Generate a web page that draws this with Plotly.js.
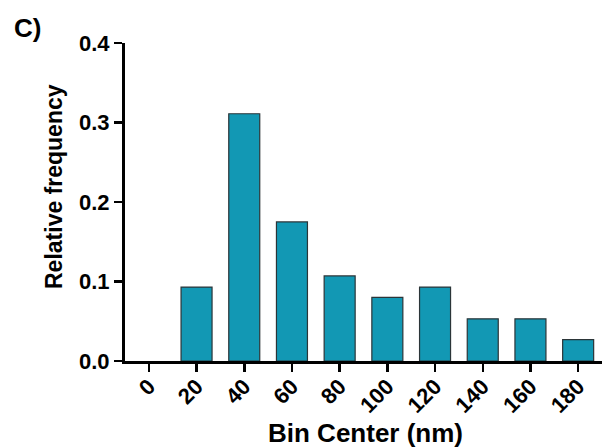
<!DOCTYPE html>
<html>
<head>
<meta charset="utf-8">
<script src="https://cdn.plot.ly/plotly-3.0.1.min.js"></script>
<style>body{margin:0;padding:0;background:#fff}#chart{width:602px;height:448px}</style>
</head>
<body>
<div id="chart"></div>
<script>
const binCenters = ["0", "20", "40", "60", "80", "100", "120", "140", "160", "180"];
const relFreq = [0, 0.093, 0.311, 0.175, 0.107, 0.080, 0.093, 0.053, 0.053, 0.027];
const yTicks = [0, 0.1, 0.2, 0.3, 0.4];
const yTickText = ["0.0", "0.1", "0.2", "0.3", "0.4"];

const font = "Liberation Sans, Arial, sans-serif";
const trace = {
  type: "bar",
  x: binCenters,
  y: relFreq,
  marker: {color: "#1298B4", line: {color: "#2b3538", width: relFreq.map(v => v > 0 ? 1.2 : 0)}},
  hoverinfo: "none"
};
const W = 477, H = 318;
const layout = {
  width: 602, height: 448,
  margin: {l: 125, r: 0, t: 43, b: 87},
  paper_bgcolor: "#fff", plot_bgcolor: "#fff",
  bargap: 0.35,
  showlegend: false,
  font: {family: font, color: "#000"},
  xaxis: {
    type: "category",
    range: [-0.5, 9.5],
    showgrid: false, zeroline: false,
    showline: true, linecolor: "#000", linewidth: 3,
    ticks: "outside", ticklen: 8, tickwidth: 2.5, tickcolor: "#000",
    tickangle: -45,
    ticklabelstandoff: -7,
    tickfont: {family: font, size: 22, color: "#000", weight: "bold"}
  },
  yaxis: {
    range: [0, 0.4],
    tickvals: yTicks, ticktext: yTickText,
    showgrid: false, zeroline: false,
    showline: true, linecolor: "#000", linewidth: 3,
    ticks: "outside", ticklen: 8, tickwidth: 2.5, tickcolor: "#000",
    tickfont: {family: font, size: 22, color: "#000", weight: "bold"}
  },
  annotations: [
    {
      text: "<b>C)</b>", xref: "paper", yref: "paper",
      x: (27 - 125) / W, y: (361 - 28) / H, xanchor: "center", yanchor: "middle",
      showarrow: false, font: {family: font, size: 26, color: "#000"}
    },
    {
      text: "<b>Bin Center (nm)</b>", xref: "paper", yref: "paper",
      x: (365 - 125) / W, y: (361 - 433) / H, xanchor: "center", yanchor: "middle",
      showarrow: false, font: {family: font, size: 26, color: "#000"}
    },
    {
      text: "<b>Relative frequency</b>", xref: "paper", yref: "paper", textangle: -90,
      x: (54 - 125) / W, y: (361 - 187) / H, xanchor: "center", yanchor: "middle",
      showarrow: false, font: {family: font, size: 23, color: "#000"}
    }
  ]
};
Plotly.newPlot("chart", [trace], layout, {staticPlot: true});
</script>
</body>
</html>
